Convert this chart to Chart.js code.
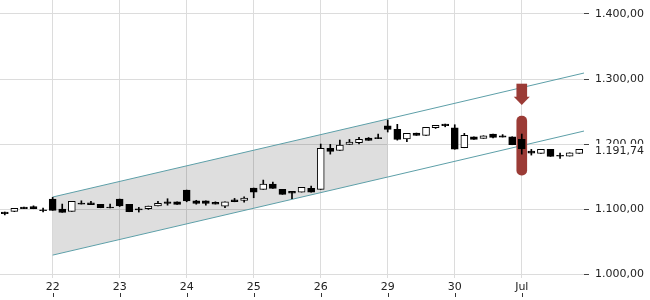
<!DOCTYPE html>
<html>
<head>
<meta charset="utf-8">
<script src="https://cdn.jsdelivr.net/npm/chart.js@4/dist/chart.umd.min.js"></script>
<style>
  body { margin: 0; background: #fff; overflow: hidden; }
</style>
</head>
<body>
<canvas id="chart" width="650" height="300"></canvas>
<script>
// Kerzen (OHLC), eine pro Stunde
const opens  = [1095.5, 1096.5, 1103, 1104, 1099, 1115.4, 1100, 1096.5, 1109.2, 1109.7,
                1107.2, 1103.2, 1115.4, 1107.2, 1100.5, 1100.5, 1105, 1111.2, 1111.2, 1129.2,
                1112.7, 1112.7, 1110.2, 1104.6, 1114.3, 1113.3, 1132.3, 1130.3, 1138.5, 1130.3,
                1127.2, 1126.1, 1131.8, 1130.3, 1193.3, 1190.3, 1199.5, 1202, 1209.2, 1209.8,
                1228.1, 1222.6, 1207.7, 1216.9, 1213.3, 1225.1, 1230.7, 1225.1, 1194.3, 1211.2,
                1208.7, 1215.4, 1212.8, 1211.2, 1207.2, 1189, 1185.6, 1191.8, 1182.8, 1181.5,
                1185.6];
const highs  = [1095.5, 1101, 1103, 1105, 1101.5, 1118, 1107.7, 1111.8, 1112.7, 1111.8,
                1107.2, 1107.7, 1115.4, 1107.2, 1102.6, 1104.6, 1111.8, 1115.9, 1111.2, 1129.2,
                1113.5, 1112.7, 1111.2, 1111.2, 1116.4, 1119, 1132.3, 1144.6, 1141.5, 1130.3,
                1127.2, 1133.4, 1135.4, 1200, 1199.5, 1206, 1207, 1210.3, 1210, 1215.4,
                1236.9, 1230.3, 1216.4, 1216.9, 1225.6, 1228.7, 1230.7, 1229.7, 1216.4, 1211.2,
                1212.8, 1215.4, 1214.5, 1211.2, 1215.4, 1191.8, 1191.8, 1191.8, 1186, 1186.6,
                1191.74];
const lows   = [1091, 1096, 1100.5, 1100.5, 1095.8, 1098, 1095, 1096.5, 1107.7, 1106.6,
                1102, 1101.7, 1104, 1095.9, 1095.4, 1099.5, 1105, 1106, 1107.2, 1111.2,
                1107.5, 1106, 1107.7, 1102, 1111.2, 1110.7, 1117.4, 1130.3, 1131.8, 1122.6,
                1115.9, 1126.1, 1126.1, 1130.3, 1184.5, 1190.3, 1199.5, 1200, 1205.6, 1208.3,
                1218.5, 1206, 1203.5, 1213.3, 1213.3, 1224, 1226.5, 1192, 1194.3, 1207.2,
                1208.7, 1209.5, 1210.7, 1198.9, 1184.5, 1183, 1185.6, 1181, 1178, 1181.5,
                1185.6];
const closes = [1093, 1101, 1100.5, 1100.5, 1097.5, 1098, 1095, 1111.8, 1107.7, 1106.6,
                1102, 1101.7, 1105, 1095.9, 1098.5, 1104.6, 1108.7, 1108.7, 1107.2, 1112.7,
                1108.7, 1108.7, 1107.7, 1111.2, 1111.2, 1116.9, 1126.1, 1138.5, 1131.8, 1122.6,
                1124.6, 1133.4, 1126.1, 1193.3, 1188.7, 1198.5, 1203, 1207.2, 1205.6, 1208.3,
                1222.6, 1207.2, 1216.4, 1213.3, 1225.6, 1228.7, 1228.1, 1192, 1213.3, 1207.2,
                1212.8, 1210.3, 1210.7, 1198.9, 1192.8, 1186, 1191.8, 1181, 1181.3, 1186.6,
                1191.74];

// Achsenbeschriftung
const dayIdx = [5, 12, 19, 26, 33, 40, 47, 54];
const dayLabels = ['22', '23', '24', '25', '26', '29', '30', 'Jul'];
const yTicks = [1000, 1100, 1200, 1300, 1400];

// Trendkanal (oben / unten), Schattierung bis Index 40
const channelX = [5, 40, 60.5];
const channelUpper = [1118.5, 1238.5, 1309.2];
const channelLower = [1029.2, 1149.3, 1220];

// Signal-Markierung bei Jul
const markerIdx = 54;
const markerRange = [1152.3, 1243];
const arrowShaft = [1272.8, 1292.3];
const arrowTip = 1260;

const red = '#9b3b36';
const teal = '#5d9fa8';

function fmt(v) {
    const parts = v.toFixed(2).split('.');
    return parts[0].replace(/\B(?=(\d{3})+(?!\d))/g, '.') + ',' + parts[1];
}

const up = closes.map((c, i) => c >= opens[i]);

const bodies = opens.map((o, i) => ({ x: i, y: [o, closes[i]] }));
const wicks = lows.map((l, i) => ({ x: i, y: [l, highs[i]] }));

// Pfeilspitze und letzter Kurs
const extras = {
    id: 'extras',
    afterDatasetsDraw(chart) {
        const ctx = chart.ctx;
        const xs = chart.scales.x, ys = chart.scales.y;
        const cx = xs.getPixelForValue(markerIdx);
        const top = ys.getPixelForValue(arrowShaft[0]);
        const tip = ys.getPixelForValue(arrowTip);
        ctx.save();
        ctx.fillStyle = red;
        ctx.beginPath();
        ctx.moveTo(cx - 8, top);
        ctx.lineTo(cx + 8, top);
        ctx.lineTo(cx, tip);
        ctx.closePath();
        ctx.fill();
        ctx.restore();
    },
    afterDraw(chart) {
        const ctx = chart.ctx;
        const area = chart.chartArea;
        const xs = chart.scales.x, ys = chart.scales.y;
        ctx.save();
        // kleine Striche unter den Datumslabels
        ctx.strokeStyle = '#333';
        ctx.lineWidth = 1;
        dayIdx.forEach(v => {
            const x = Math.round(xs.getPixelForValue(v)) + 0.5;
            ctx.beginPath();
            ctx.moveTo(x, area.bottom + 15);
            ctx.lineTo(x, area.bottom + 19);
            ctx.stroke();
        });
        // letzter Kurs, verdeckt das 1.200er Label teilweise
        const last = closes[closes.length - 1];
        const py = ys.getPixelForValue(last);
        ctx.fillStyle = '#fff';
        ctx.fillRect(area.right + 6, py - 5.5, 60, 15);
        ctx.fillStyle = '#222';
        ctx.font = '11px "DejaVu Sans"';
        ctx.textAlign = 'left';
        ctx.textBaseline = 'middle';
        ctx.fillText(fmt(last), area.right + 11, py + 2);
        ctx.restore();
    }
};

new Chart(document.getElementById('chart').getContext('2d'), {
    type: 'bar',
    data: {
        datasets: [
            {
                type: 'line',
                data: channelX.slice(0, 2).map((x, i) => ({ x: x, y: channelUpper[i] })),
                borderWidth: 0,
                pointRadius: 0,
                fill: false,
                order: 11
            },
            {
                type: 'line',
                data: channelX.slice(0, 2).map((x, i) => ({ x: x, y: channelLower[i] })),
                borderWidth: 0,
                pointRadius: 0,
                fill: '-1',
                backgroundColor: 'rgba(0, 0, 0, 0.13)',
                order: 10
            },
            {
                type: 'line',
                data: channelX.map((x, i) => ({ x: x, y: channelUpper[i] })),
                borderColor: teal,
                borderWidth: 1,
                pointRadius: 0,
                fill: false,
                order: 9
            },
            {
                type: 'line',
                data: channelX.map((x, i) => ({ x: x, y: channelLower[i] })),
                borderColor: teal,
                borderWidth: 1,
                pointRadius: 0,
                fill: false,
                order: 9
            },
            {
                data: [{ x: markerIdx, y: markerRange }, { x: markerIdx, y: arrowShaft }],
                backgroundColor: red,
                barThickness: 10,
                borderRadius: [{ topLeft: 5, topRight: 5, bottomLeft: 5, bottomRight: 5 }, 0],
                borderSkipped: false,
                grouped: false,
                order: 8
            },
            {
                data: wicks,
                backgroundColor: '#000',
                barThickness: 1,
                grouped: false,
                order: 2
            },
            {
                data: bodies,
                backgroundColor: up.map(u => u ? '#fff' : '#000'),
                borderColor: '#000',
                borderWidth: 1,
                borderSkipped: false,
                barThickness: 7,
                grouped: false,
                order: 1
            }
        ]
    },
    options: {
        responsive: false,
        animation: false,
        devicePixelRatio: 1,
        layout: { padding: 0 },
        plugins: {
            legend: { display: false },
            tooltip: { enabled: false }
        },
        scales: {
            x: {
                type: 'linear',
                min: -0.5,
                max: 60.5,
                offset: false,
                afterBuildTicks: axis => { axis.ticks = dayIdx.map(v => ({ value: v })); },
                afterFit: axis => {
                    axis.height = 22;
                    axis.paddingLeft = 0;
                    axis.paddingRight = 0;
                },
                grid: { color: '#dcdcdc', drawTicks: false, offset: false },
                border: { display: false },
                ticks: {
                    autoSkip: false,
                    maxRotation: 0,
                    padding: 3,
                    color: '#222',
                    font: { family: 'DejaVu Sans', size: 11 },
                    callback: (v, i) => dayLabels[i]
                }
            },
            y: {
                position: 'right',
                min: 994,
                max: 1421.5,
                afterBuildTicks: axis => { axis.ticks = yTicks.map(v => ({ value: v })); },
                afterFit: axis => {
                    axis.width = 66;
                    axis.paddingTop = 0;
                    axis.paddingBottom = 0;
                },
                grid: { color: '#dcdcdc', tickLength: 5, tickColor: '#444' },
                border: { display: false },
                ticks: {
                    padding: 6,
                    color: '#222',
                    font: { family: 'DejaVu Sans', size: 11 },
                    callback: v => fmt(v)
                }
            }
        }
    },
    plugins: [extras]
});
</script>
</body>
</html>
